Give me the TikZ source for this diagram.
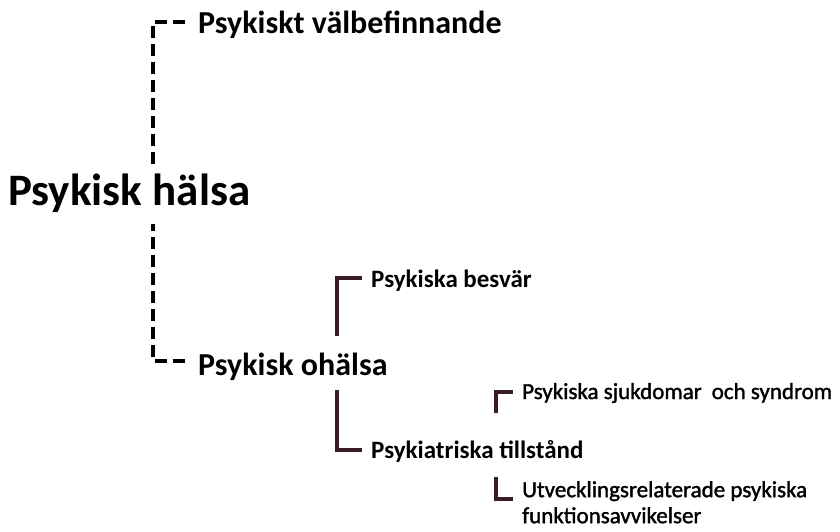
\documentclass[tikz,border=0pt]{standalone}
\usepackage{fontspec}
\setmainfont{Carlito}
\newfontfamily\semib[FakeBold=1.5]{Carlito}
\definecolor{maroonline}{HTML}{3B1A2A}
\begin{document}
\begin{tikzpicture}[x=1pt,y=-1pt,
  txt/.style={inner sep=0pt, anchor=base west, text=black},
  lvlA/.style={txt, font=\bfseries\fontsize{32}{38}\selectfont},
  lvlRoot/.style={txt, font=\bfseries\fontsize{45}{52}\selectfont},
  lvlB/.style={txt, font=\bfseries\fontsize{25}{30}\selectfont},
  lvlC/.style={txt, align=left, font=\semib\fontsize{23}{26}\selectfont},
  dsh/.style={line width=3.8pt, draw=black, dash pattern=on 12pt off 6pt},
  brk/.style={line width=3.5pt, draw=maroonline}]
\useasboundingbox[fill=white] (0,0) rectangle (840,531);

% texts
\node[lvlRoot] (root) at (8,205) {Psykisk hälsa};
\node[lvlA] (valb) at (198,33) {Psykiskt välbefinnande};
\node[lvlA] (ohal) at (198,375) {Psykisk ohälsa};
\node[lvlB] (besv) at (371,287) {Psykiska besvär};
\node[lvlB] (till) at (371,458) {Psykiatriska tillstånd};
\node[lvlC] (sjuk) at (522,399) {Psykiska sjukdomar\hspace{10pt}och syndrom};
\node[lvlC, anchor=north west] (utv) at (522,481) {Utvecklingsrelaterade psykiska\\funktionsavvikelser};

% connector coordinates
\coordinate (rootT) at (153,168);
\coordinate (rootB) at (153,224);
\coordinate (valbE) at (185,22);
\coordinate (ohalE) at (185,361);
\coordinate (ohalB1) at (337,336);
\coordinate (besvE) at (362,278);
\coordinate (ohalB2) at (337,390);
\coordinate (tillE) at (362,450);
\coordinate (tillT) at (496,413);
\coordinate (sjukE) at (513,392);
\coordinate (tillB) at (496,477);
\coordinate (utvE) at (513,499);

% dashed connectors
\draw[dsh] (valbE) -| (rootT);
\draw[dsh] (ohalE) -| (rootB);
% solid brackets
\draw[brk] (ohalB1) |- (besvE);
\draw[brk] (ohalB2) |- (tillE);
\draw[brk] (tillT) |- (sjukE);
\draw[brk] (tillB) |- (utvE);
\end{tikzpicture}
\end{document}
